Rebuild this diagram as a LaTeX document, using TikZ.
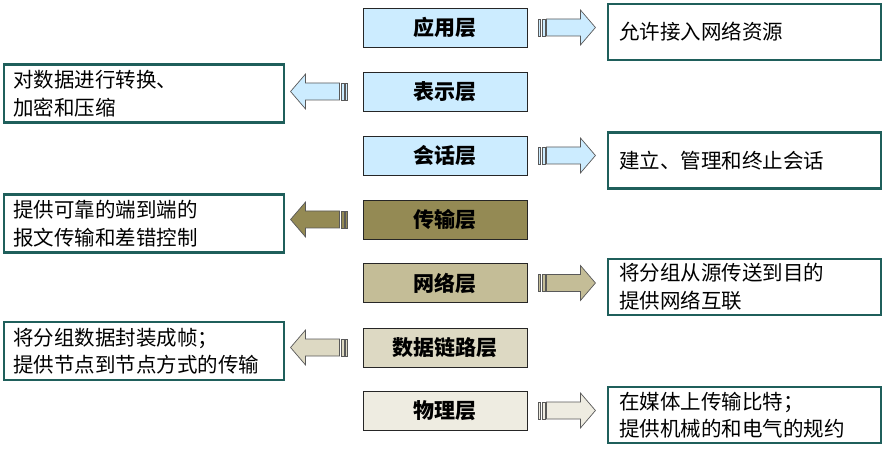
\documentclass[tikz,border=0pt]{standalone}
\usepackage{fontspec}
\newfontfamily\cjkfont{Noto Sans CJK SC}
\usetikzlibrary{calc}
\definecolor{osiblue}{HTML}{CCECFF}
\definecolor{ositanA}{HTML}{948A54}
\definecolor{ositanB}{HTML}{C4BD97}
\definecolor{ositanC}{HTML}{DDD9C3}
\definecolor{ositanD}{HTML}{EEECE1}
\definecolor{descteal}{HTML}{1F5F5B}
\tikzset{
  layerbox/.style={rectangle, draw=black!85, line width=0.9pt,
                   minimum width=164pt, minimum height=39pt, inner sep=0pt,
                   font=\cjkfont\bfseries\fontsize{21}{24}\selectfont},
  descbox/.style={rectangle, draw=descteal, line width=2.2pt, align=left,
                  font=\cjkfont\fontsize{20.5}{27.5}\selectfont},
  rdesc/.style={descbox, inner xsep=11pt, text width=251pt, minimum height=56pt},
  ldesc/.style={descbox, inner xsep=9pt, text width=262pt, minimum height=58pt},
  arrowline/.style={draw=black!65, line width=0.7pt},
}
% striped block arrow, origin at the outer stripe
\newcommand{\osiarrow}[3]{%
  \begin{scope}[shift={(#1)}, xscale=#2]
    \filldraw[fill=#3, arrowline] (0,-8.5) rectangle (2,8.5);
    \filldraw[fill=#3, arrowline] (3.5,-8.5) rectangle (6.5,8.5);
    \filldraw[fill=#3, arrowline] (8,-8.5) -- (42,-8.5) -- (42,-17.5)
      -- (57,0) -- (42,17.5) -- (42,8.5) -- (8,8.5) -- cycle;
  \end{scope}}

\begin{document}
\begin{tikzpicture}[x=1pt, y=-1pt]
  \useasboundingbox (0,0) rectangle (891,454);

  % layers
  \node[layerbox, fill=osiblue] (app) at (445, 27.5) {应用层};
  \node[layerbox, fill=osiblue] (pres) at (445, 91.5) {表示层};
  \node[layerbox, fill=osiblue] (sess) at (445, 155.5) {会话层};
  \node[layerbox, fill=ositanA] (trans) at (445, 219.5) {传输层};
  \node[layerbox, fill=ositanB] (net) at (445, 283) {网络层};
  \node[layerbox, fill=ositanC] (link) at (445, 347.5) {数据链路层};
  \node[layerbox, fill=ositanD] (phys) at (445, 410.5) {物理层};

  % descriptions
  \node[rdesc] (appdesc) at (744.5, 32) {允许接入网络资源};
  \node[ldesc] (presdesc) at (144, 93.5) {对数据进行转换、\\加密和压缩};
  \node[rdesc] (sessdesc) at (744.5, 160.5) {建立、管理和终止会话};
  \node[ldesc] (transdesc) at (144, 223.5) {提供可靠的端到端的\\报文传输和差错控制};
  \node[rdesc] (netdesc) at (744.5, 287) {将分组从源传送到目的\\提供网络互联};
  \node[ldesc] (linkdesc) at (144, 351) {将分组数据封装成帧；\\提供节点到节点方式的传输};
  \node[rdesc] (physdesc) at (744.5, 415) {在媒体上传输比特；\\提供机械的和电气的规约};

  % arrows
  \osiarrow{$(app.east)+(11,0)$}{1}{osiblue}
  \osiarrow{$(pres.west)+(-15,0)$}{-1}{osiblue}
  \osiarrow{$(sess.east)+(11,0)$}{1}{osiblue}
  \osiarrow{$(trans.west)+(-15,0)$}{-1}{ositanA}
  \osiarrow{$(net.east)+(11,0)$}{1}{ositanB}
  \osiarrow{$(link.west)+(-15,0)$}{-1}{ositanC}
  \osiarrow{$(phys.east)+(11,0)$}{1}{ositanD}
\end{tikzpicture}
\end{document}
